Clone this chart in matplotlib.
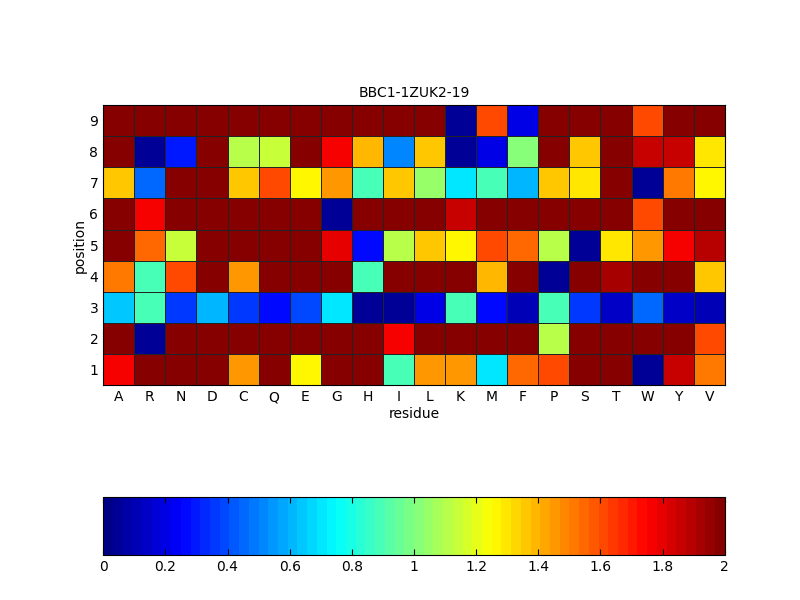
import numpy as np
import matplotlib
matplotlib.use('Agg')
import matplotlib.pyplot as plt
from matplotlib.colors import ListedColormap

residues = ['A', 'R', 'N', 'D', 'C', 'Q', 'E', 'G', 'H', 'I',
            'L', 'K', 'M', 'F', 'P', 'S', 'T', 'W', 'Y', 'V']
positions = [1, 2, 3, 4, 5, 6, 7, 8, 9]

# rows are positions 1..9
pos1 = [1.75, 2, 2, 2, 1.45, 2, 1.25, 2, 2, 0.9, 1.45, 1.45, 0.7, 1.55, 1.6, 2, 2, 0.05, 1.85, 1.5]
pos2 = [2, 0.05, 2, 2, 2, 2, 2, 2, 2, 1.75, 2, 2, 2, 2, 1.1, 2, 2, 2, 2, 1.6]
pos3 = [0.65, 0.9, 0.35, 0.6, 0.35, 0.25, 0.4, 0.7, 0.05, 0.05, 0.2, 0.9, 0.25, 0.1, 0.9, 0.35, 0.15, 0.45, 0.15, 0.12]
pos4 = [1.5, 0.9, 1.6, 2, 1.45, 2, 2, 2, 0.9, 2, 2, 2, 1.4, 2, 0.05, 2, 1.93, 2, 2, 1.35]
pos5 = [2, 1.55, 1.15, 2, 2, 2, 2, 1.8, 0.25, 1.1, 1.35, 1.25, 1.6, 1.55, 1.1, 0.05, 1.3, 1.45, 1.75, 1.9]
pos6 = [2, 1.75, 2, 2, 2, 2, 2, 0.05, 2, 2, 2, 1.87, 2, 2, 2, 2, 2, 1.6, 2, 2]
pos7 = [1.35, 0.45, 2, 2, 1.35, 1.6, 1.25, 1.45, 0.9, 1.35, 1.05, 0.7, 0.9, 0.6, 1.35, 1.3, 2, 0.05, 1.5, 1.25]
pos8 = [2, 0.05, 0.3, 2, 1.1, 1.15, 2, 1.75, 1.4, 0.5, 1.35, 0.05, 0.2, 1.0, 2, 1.35, 2, 1.85, 1.85, 1.3]
pos9 = [2, 2, 2, 2, 2, 2, 2, 2, 2, 2, 2, 0.05, 1.6, 0.2, 2, 2, 2, 1.6, 2, 2]

data = np.array([pos1, pos2, pos3, pos4, pos5, pos6, pos7, pos8, pos9])

# MATLAB-style jet, 64 levels
t = (np.arange(64) + 0.5) / 64
r = np.clip(1.5 - np.abs(4 * t - 3), 0, 1)
g = np.clip(1.5 - np.abs(4 * t - 2), 0, 1)
b = np.clip(1.5 - np.abs(4 * t - 1), 0, 1)
mjet = ListedColormap(np.column_stack([r, g, b]))

fig = plt.figure(figsize=(8, 6), dpi=100)
ax = fig.add_axes([0.129, 0.358, 0.777, 0.467])
x = np.arange(len(residues) + 1) + 0.5
y = np.arange(len(positions) + 1) + 0.5
mesh = ax.pcolormesh(x, y, data, cmap=mjet, vmin=0, vmax=2,
                     edgecolor='#222222', linewidth=0.6)
ax.set_xticks(np.arange(1, len(residues) + 1))
ax.set_xticklabels(residues)
ax.set_yticks(positions)
ax.tick_params(length=0, labelsize=10)
ax.set_xlabel('residue', fontsize=10, labelpad=2)
ax.set_ylabel('position', fontsize=10, labelpad=2)
ax.set_title('BBC1-1ZUK2-19', fontsize=10)

cax = fig.add_axes([0.129, 0.075, 0.777, 0.097])
cb = fig.colorbar(mesh, cax=cax, orientation='horizontal')
cb.set_ticks([0, 0.2, 0.4, 0.6, 0.8, 1, 1.2, 1.4, 1.6, 1.8, 2])
cb.set_ticklabels(['0', '0.2', '0.4', '0.6', '0.8', '1', '1.2', '1.4', '1.6', '1.8', '2'])
cax.tick_params(labelsize=10, direction='in', top=True, length=4)

fig.savefig('out.png', dpi=100)
